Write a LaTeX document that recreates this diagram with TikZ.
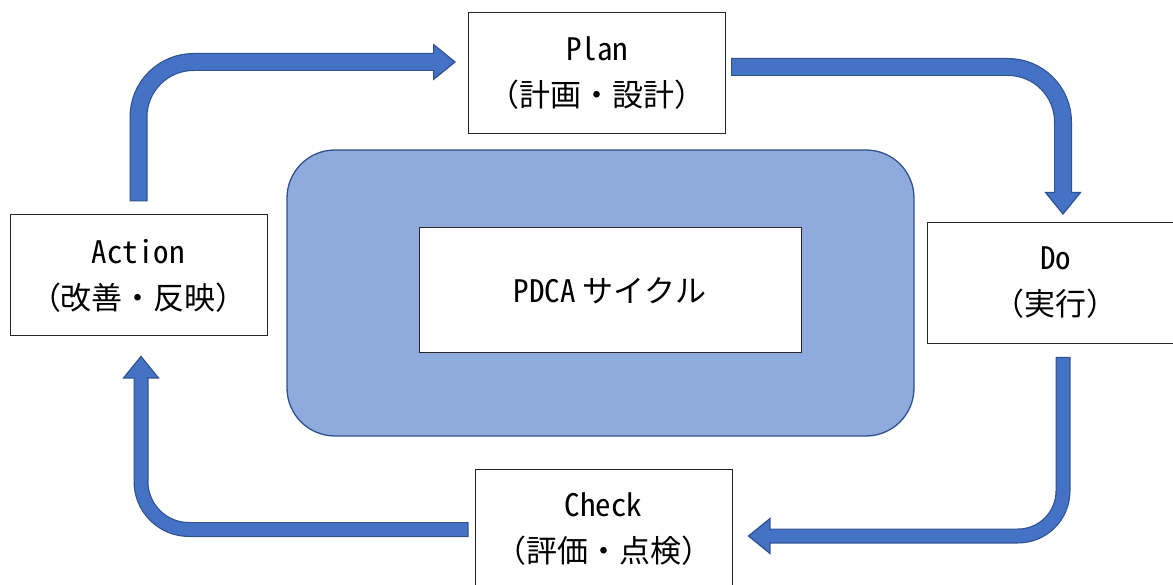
\documentclass[tikz,border=0pt]{standalone}
\usepackage{fontspec}
\newfontfamily\jpfont{Noto Sans Mono CJK JP}
\usetikzlibrary{arrows.meta,positioning}
\definecolor{ArrowBlue}{RGB}{68,114,196}
\definecolor{ArrowEdge}{RGB}{47,82,143}
\definecolor{PanelBlue}{RGB}{143,170,220}

\tikzset{
  stepbox/.style={draw=black!85,fill=white,line width=1pt,
    minimum width=257pt,minimum height=121pt,align=center,
    inner sep=0pt,font=\jpfont\fontsize{31}{46}\selectfont},
  panel/.style={draw=ArrowEdge,fill=PanelBlue,line width=1.3pt,
    rounded corners=48pt,inner sep=0pt},
  flow/.style={line width=#1,draw=ArrowEdge,rounded corners=55pt,
    -{Triangle[length=23pt,width=37pt,fill=ArrowBlue,line width=1.2pt]},
    postaction={draw=ArrowBlue,line width=#1-2.4pt,-,
      shorten >=21pt,shorten <=1.2pt}},
  flow/.default=18pt
}

\begin{document}
\begin{tikzpicture}[x=1pt,y=-1pt]
      \useasboundingbox (0,0) rectangle (1173,585);
      % centre panel
      \node[panel,minimum width=627pt,minimum height=286pt] (cycle) at (600.5,293) {};
      \node[stepbox,minimum width=382pt,minimum height=125pt] (pdca) at (610,290.5) {PDCA\hspace{0.2em}サイクル};
      % the four steps
      \node[stepbox] (plan) at (597,73) {Plan\\（計画・設計）};
      \node[stepbox] (do) at (1055.5,283) {Do\\（実行）};
      \node[stepbox] (check) at (603.5,529.5) {Check\\（評価・点検）};
      \node[stepbox] (act) at (138.5,275.5) {Action\\（改善・反映）};
      % loop arrows
      \draw[flow] ([yshift=13pt]act.north) |- ([xshift=-12pt,yshift=11pt]plan.west);
      \draw[flow] ([xshift=5pt,yshift=6pt]plan.east) -| ([xshift=7.5pt,yshift=7pt]do.north);
      \draw[flow=15pt,rounded corners=45pt] ([xshift=7.5pt,yshift=-13pt]do.south) |- ([xshift=15pt,yshift=-6.5pt]check.east);
      \draw[flow=15pt,rounded corners=48pt] ([xshift=-6pt]check.west) -| ([xshift=2.5pt,yshift=-19pt]act.south);
    \end{tikzpicture}
\end{document}
